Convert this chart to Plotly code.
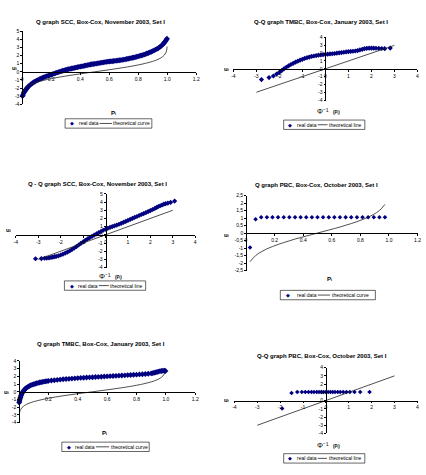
import plotly.graph_objects as go

W, H = 426, 475
NAVY = "#000080"
LINE = "#222222"
FONT = "Liberation Sans, Arial, sans-serif"

# ---------------- data ----------------
# Q graph SCC (Nov 2003): p_i vs u_i
scc_p = [0.002, 0.005, 0.01, 0.015, 0.02, 0.025, 0.03, 0.035, 0.04, 0.05, 0.06, 0.07, 0.08, 0.09,
         0.10, 0.11, 0.12, 0.13, 0.14, 0.15, 0.16, 0.17, 0.18, 0.19, 0.20, 0.21, 0.22, 0.23, 0.24,
         0.25, 0.26, 0.27, 0.28, 0.29, 0.30, 0.31, 0.32, 0.33, 0.34, 0.35, 0.36, 0.37, 0.38, 0.39,
         0.40, 0.41, 0.42, 0.43, 0.44, 0.45, 0.46, 0.47, 0.48, 0.49, 0.50, 0.51, 0.52, 0.53, 0.54,
         0.55, 0.56, 0.57, 0.58, 0.59, 0.60, 0.61, 0.62, 0.63, 0.64, 0.65, 0.66, 0.67, 0.68, 0.69,
         0.70, 0.71, 0.72, 0.73, 0.74, 0.75, 0.76, 0.77, 0.78, 0.79, 0.80, 0.81, 0.82, 0.83, 0.84,
         0.85, 0.86, 0.87, 0.88, 0.89, 0.90, 0.91, 0.92, 0.93, 0.94, 0.95, 0.96, 0.97, 0.975, 0.98,
         0.985, 0.99, 0.995, 0.998]
scc_u = [-2.98, -2.85, -2.6, -2.45, -2.32, -2.2, -2.08, -1.96, -1.85, -1.68, -1.54, -1.4, -1.28, -1.17,
         -1.08, -0.99, -0.9, -0.82, -0.74, -0.67, -0.6, -0.53, -0.47, -0.41, -0.36, -0.29, -0.22, -0.16, -0.1,
         -0.04, 0.02, 0.08, 0.13, 0.18, 0.23, 0.28, 0.32, 0.36, 0.4, 0.44, 0.48, 0.52, 0.56, 0.6,
         0.63, 0.67, 0.7, 0.74, 0.78, 0.82, 0.85, 0.89, 0.92, 0.95, 0.98, 1.01, 1.04, 1.07, 1.1,
         1.13, 1.16, 1.19, 1.21, 1.24, 1.26, 1.28, 1.3, 1.32, 1.34, 1.37, 1.39, 1.42, 1.44, 1.47,
         1.5, 1.53, 1.57, 1.6, 1.64, 1.68, 1.72, 1.76, 1.8, 1.85, 1.9, 1.95, 2.0, 2.05, 2.1,
         2.17, 2.24, 2.31, 2.38, 2.46, 2.54, 2.63, 2.72, 2.82, 2.92, 3.05, 3.2, 3.36, 3.47, 3.58,
         3.7, 3.82, 3.95, 4.05]
scc_theo_p = [0.001, 0.005, 0.01, 0.02, 0.03, 0.05, 0.075, 0.1, 0.15, 0.2, 0.3, 0.4, 0.5, 0.6,
              0.7, 0.8, 0.85, 0.9, 0.925, 0.95, 0.97, 0.98, 0.99, 0.995, 0.999]
scc_theo_u = [-3.09, -2.58, -2.33, -2.05, -1.88, -1.64, -1.44, -1.28, -1.04, -0.84, -0.52, -0.25, 0.0, 0.25,
              0.52, 0.84, 1.04, 1.28, 1.44, 1.64, 1.88, 2.05, 2.33, 2.58, 3.09]

# Q-Q graph SCC (Nov 2003): Phi^-1(p_i) vs u_i
scc_z = [-3.12, -2.86, -2.72, -2.62, -2.52, -2.43, -2.35, -2.27, -2.2, -2.1, -2.0, -1.9, -1.8, -1.7,
         -1.6, -1.5, -1.4, -1.3, -1.2, -1.1, -1.0, -0.9, -0.8, -0.7, -0.6, -0.5, -0.4, -0.3, -0.2,
         -0.1, 0.0, 0.1, 0.2, 0.3, 0.4, 0.5, 0.6, 0.7, 0.8, 0.9, 1.0, 1.1, 1.2, 1.3, 1.4, 1.5,
         1.6, 1.7, 1.8, 1.9, 2.0, 2.1, 2.2, 2.28, 2.36, 2.44, 2.52, 2.6, 2.68, 2.78, 2.9, 3.08]
scc_zu = [-2.92, -2.9, -2.86, -2.83, -2.8, -2.76, -2.72, -2.67, -2.63, -2.56, -2.46, -2.36, -2.24, -2.1,
          -1.96, -1.8, -1.62, -1.43, -1.24, -1.05, -0.86, -0.67, -0.5, -0.34, -0.18, -0.03, 0.12, 0.27, 0.42,
          0.56, 0.68, 0.8, 0.91, 1.01, 1.1, 1.19, 1.29, 1.4, 1.52, 1.64, 1.76, 1.88, 2.0, 2.12, 2.24, 2.36,
          2.48, 2.6, 2.72, 2.84, 2.96, 3.09, 3.22, 3.34, 3.46, 3.55, 3.64, 3.74, 3.8, 3.88, 3.96, 4.12]

# Q graph TMBC (Jan 2003)
tmbc_p = [0.001, 0.003, 0.005, 0.008, 0.01, 0.013, 0.016, 0.02, 0.025, 0.03, 0.035, 0.04, 0.045, 0.05,
          0.06, 0.07, 0.08, 0.09, 0.10, 0.11, 0.12, 0.13, 0.14, 0.15, 0.16, 0.17, 0.18, 0.19, 0.20,
          0.22, 0.24, 0.26, 0.28, 0.30, 0.32, 0.34, 0.36, 0.38, 0.40, 0.42, 0.44, 0.46, 0.48, 0.50,
          0.52, 0.54, 0.56, 0.58, 0.60, 0.62, 0.64, 0.66, 0.68, 0.70, 0.72, 0.74, 0.76, 0.78, 0.80,
          0.82, 0.84, 0.86, 0.88, 0.90, 0.91, 0.92, 0.93, 0.94, 0.95, 0.96, 0.97, 0.98, 0.99, 0.997]
tmbc_u = [-1.4, -1.2, -1.02, -0.82, -0.7, -0.53, -0.38, -0.2, -0.04, 0.1, 0.22, 0.33, 0.42, 0.5,
          0.63, 0.75, 0.85, 0.92, 0.98, 1.04, 1.1, 1.15, 1.2, 1.24, 1.28, 1.32, 1.35, 1.38, 1.41,
          1.46, 1.5, 1.54, 1.58, 1.62, 1.65, 1.68, 1.71, 1.74, 1.77, 1.8, 1.82, 1.85, 1.87, 1.89,
          1.91, 1.93, 1.95, 1.98, 2.0, 2.02, 2.05, 2.07, 2.09, 2.11, 2.13, 2.16, 2.18, 2.2, 2.22,
          2.25, 2.27, 2.3, 2.33, 2.38, 2.42, 2.47, 2.52, 2.57, 2.62, 2.67, 2.7, 2.72, 2.72, 2.7]
tmbc_theo_p = [0.001, 0.005, 0.01, 0.02, 0.03, 0.05, 0.075, 0.1, 0.15, 0.2, 0.3, 0.4, 0.5, 0.6,
               0.7, 0.8, 0.85, 0.9, 0.925, 0.95, 0.97, 0.98, 0.99, 0.993]
tmbc_theo_u = [-3.09, -2.58, -2.33, -2.05, -1.88, -1.64, -1.44, -1.28, -1.04, -0.84, -0.52, -0.25, 0.0, 0.25,
               0.52, 0.84, 1.04, 1.28, 1.44, 1.64, 1.88, 2.05, 2.33, 2.46]

# Q-Q graph TMBC (Jan 2003)
tmbc_z = [-2.78, -2.45, -2.26, -2.12, -2.0, -1.9, -1.8, -1.7, -1.6, -1.5, -1.4, -1.3, -1.2, -1.1,
          -1.0, -0.9, -0.8, -0.7, -0.6, -0.5, -0.4, -0.3, -0.2, -0.1, 0.0, 0.1, 0.2, 0.3, 0.4,
          0.5, 0.6, 0.7, 0.8, 0.9, 1.0, 1.1, 1.2, 1.3, 1.4, 1.5, 1.6, 1.7, 1.8, 1.9, 2.0, 2.1,
          2.2, 2.32, 2.45, 2.58, 2.82]
tmbc_zu = [-1.38, -1.12, -0.92, -0.68, -0.45, -0.22, 0.0, 0.2, 0.38, 0.55, 0.7, 0.85, 0.98, 1.1,
           1.22, 1.33, 1.42, 1.5, 1.58, 1.64, 1.7, 1.74, 1.78, 1.81, 1.84, 1.87, 1.9, 1.93, 1.96,
           2.0, 2.04, 2.08, 2.12, 2.16, 2.19, 2.22, 2.25, 2.28, 2.34, 2.42, 2.5, 2.58, 2.62, 2.64, 2.64, 2.64,
           2.63, 2.62, 2.6, 2.58, 2.66]

# PBC (Oct 2003): 25 points
pbc_p = [0.028, 0.067, 0.106, 0.146, 0.185, 0.224, 0.264, 0.303, 0.343, 0.382, 0.421, 0.461, 0.500,
         0.539, 0.579, 0.618, 0.657, 0.697, 0.736, 0.776, 0.815, 0.854, 0.894, 0.933, 0.972]
pbc_z = [-1.91, -1.50, -1.25, -1.05, -0.90, -0.76, -0.63, -0.52, -0.40, -0.30, -0.20, -0.10, 0.00,
         0.10, 0.20, 0.30, 0.40, 0.52, 0.63, 0.76, 0.90, 1.05, 1.25, 1.50, 1.91]
pbc_u = [-0.96, 0.92, 1.05, 1.05, 1.05, 1.05, 1.05, 1.05, 1.05, 1.05, 1.05, 1.05, 1.05,
         1.05, 1.05, 1.05, 1.05, 1.05, 1.05, 1.05, 1.05, 1.05, 1.05, 1.05, 1.05]

# theoretical line for Q-Q graphs
qq_line_x = [-3, 3]
qq_line_y = [-3, 3]

# tick labels
p_ticks = [0, 0.2, 0.4, 0.6, 0.8, 1.0, 1.2]
p_ticktext = ["0", "0.2", "0.4", "0.6", "0.8", "1.0", "1.2"]
z_ticks = [-4, -3, -2, -1, 0, 1, 2, 3, 4]
u_ticks_9 = [-4, -3, -2, -1, 0, 1, 2, 3, 4, 5]
u_ticks_8 = [-4, -3, -2, -1, 0, 1, 2, 3, 4]
pbc_u_ticks = [-2.5, -2, -1.5, -1, -0.5, 0, 0.5, 1, 1.5, 2, 2.5]
pbc_u_ticktext = ["-2,5", "-2", "-1,5", "-1", "-0,5", "0", "0,5", "1", "1,5", "2", "2,5"]

titles = [
    "Q graph SCC, Box-Cox, November 2003, Set I",
    "Q-Q graph TMBC, Box-Cox, January 2003, Set I",
    "Q - Q graph SCC, Box-Cox, November 2003, Set I",
    "Q graph PBC, Box-Cox, October 2003, Set I",
    "Q graph TMBC, Box-Cox, January 2003, Set I",
    "Q-Q graph PBC, Box-Cox, October 2003, Set I",
]

# ---------------- layout (pixels) ----------------
# leg = (box left, box centre y, box width, [diamond, text1, line start, line end, text2] offsets)
panels = [
    dict(dx=(20.5, 197), dy=(28.4, 102.7), xr=[0, 1.2], yr=[-4, 5], xt=(p_ticks, p_ticktext),
         yt=(u_ticks_9, [str(v) for v in u_ticks_9]), title=(100, 19), xlab=(113, 111), ulab=(13, 66),
         leg=(64, 122, 88, (7.5, 13, 35, 47.5, 48)), qq=False, curve="theoretical curve",
         data=(scc_p, scc_u, 4.5), theo=(scc_theo_p, scc_theo_u)),
    dict(dx=(234.7, 421.3), dy=(35, 98.3), xr=[-4, 4], yr=[-4, 4], xt=(z_ticks, [str(v) for v in z_ticks]),
         yt=(u_ticks_8, [str(v) for v in u_ticks_8]), title=(323.5, 19), xlab=(331, 110), ulab=(228, 66.7),
         leg=(285.7, 123.3, 82.3, (6.7, 12.5, 34.5, 44.5, 45)), qq=True, curve="theoretical line",
         data=(tmbc_z, tmbc_zu, 4), theo=(qq_line_x, qq_line_y)),
    dict(dx=(14, 196), dy=(193.3, 268), xr=[-4, 4], yr=[-4, 5], xt=(z_ticks, [str(v) for v in z_ticks]),
         yt=(u_ticks_9, [str(v) for v in u_ticks_9]), title=(97, 183.3), xlab=(110, 277.5), ulab=(7, 230),
         leg=(63.3, 286.2, 82.4, (7.5, 13, 35, 45, 45.5)), qq=True, curve="theoretical line",
         data=(scc_z, scc_zu, 4), theo=(qq_line_x, qq_line_y)),
    dict(dx=(247.5, 421.5), dy=(195, 271), xr=[0, 1.2], yr=[-2.5, 2.5], xt=(p_ticks, p_ticktext),
         yt=(pbc_u_ticks, pbc_u_ticktext), title=(319, 184.3), xlab=(332, 280), ulab=(228, 235),
         leg=(282.3, 295.8, 96.4, (8, 15.5, 38, 50.5, 51)), qq=False, curve="theoretical curve",
         data=(pbc_p, pbc_u, 3.5), theo=(pbc_p, pbc_z)),
    dict(dx=(17.3, 196), dy=(362.5, 425), xr=[0, 1.2], yr=[-4, 4], xt=(p_ticks, p_ticktext),
         yt=(u_ticks_8, [str(v) for v in u_ticks_8]), title=(100, 345), xlab=(104, 435), ulab=(5, 394),
         leg=(60.7, 449.5, 88.6, (7, 12.5, 34.5, 48, 48.5)), qq=False, curve="theoretical curve",
         data=(tmbc_p, tmbc_u, 4.5), theo=(tmbc_theo_p, tmbc_theo_u)),
    dict(dx=(235.7, 421.3), dy=(369.3, 436), xr=[-4, 4], yr=[-4, 4], xt=(z_ticks, [str(v) for v in z_ticks]),
         yt=(u_ticks_8, [str(v) for v in u_ticks_8]), title=(324.5, 357.3), xlab=(331, 448.5), ulab=(228, 402),
         leg=(285.7, 461.2, 82.3, (6.7, 12.5, 34.5, 44, 44.5)), qq=True, curve="theoretical line",
         data=(pbc_z, pbc_u, 3.5), theo=(qq_line_x, qq_line_y)),
]
LEG_H = 9.5


def fx(px):
    return px / W


def fy(py):
    return 1 - py / H


def note(px, py, text, size, xanchor="center", bold=False, color="black", **kw):
    return dict(x=fx(px), y=fy(py), xref="paper", yref="paper", text=text, showarrow=False,
                xanchor=xanchor, yanchor="middle", borderpad=0,
                font=dict(family=FONT, size=size, color=color, weight="bold" if bold else "normal"), **kw)


fig = go.Figure()
layout = dict(
    width=W, height=H, autosize=False,
    margin=dict(l=0, r=0, t=0, b=0, pad=0),
    paper_bgcolor="white", plot_bgcolor="rgba(0,0,0,0)",
    showlegend=False,
    font=dict(family=FONT, size=5, color="black"),
)
annotations = []
shapes = []

for i, pn in enumerate(panels):
    k = "" if i == 0 else str(i + 1)
    xa, ya = "x" + k, "y" + k
    xdom = [fx(pn["dx"][0]), fx(pn["dx"][1])]
    ydom = [fy(pn["dy"][1]), fy(pn["dy"][0])]
    # where the value 0 falls on each axis (axes cross at zero, Excel style)
    y0frac = ydom[0] + (0 - pn["yr"][0]) / (pn["yr"][1] - pn["yr"][0]) * (ydom[1] - ydom[0])
    x0frac = xdom[0] + (0 - pn["xr"][0]) / (pn["xr"][1] - pn["xr"][0]) * (xdom[1] - xdom[0])
    common = dict(showgrid=False, zeroline=False, showline=True, linecolor="black", linewidth=0.7,
                  ticks="outside", ticklen=2, tickwidth=0.6, tickcolor="black",
                  tickfont=dict(family=FONT, size=5, color="black"), tickmode="array",
                  anchor="free", fixedrange=True)
    layout["xaxis" + k] = dict(common, domain=xdom, range=pn["xr"], position=y0frac,
                               tickvals=pn["xt"][0], ticktext=pn["xt"][1])
    layout["yaxis" + k] = dict(common, domain=ydom, range=pn["yr"], position=x0frac,
                               tickvals=pn["yt"][0], ticktext=pn["yt"][1])

    dx_, dy_, ms = pn["data"]
    fig.add_trace(go.Scatter(x=dx_, y=dy_, xaxis=xa, yaxis=ya, mode="markers", name="real data",
                             marker=dict(symbol="diamond", size=ms, color=NAVY, line=dict(width=0)),
                             cliponaxis=False))
    tx, ty = pn["theo"]
    fig.add_trace(go.Scatter(x=tx, y=ty, xaxis=xa, yaxis=ya, mode="lines", name=pn["curve"],
                             line=dict(color=LINE, width=0.8, shape="spline" if not pn["qq"] else "linear"),
                             cliponaxis=False))

    # title
    annotations.append(note(pn["title"][0], pn["title"][1], titles[i], 6, bold=True))
    # x-axis title
    xlx, xly = pn["xlab"]
    if pn["qq"]:
        annotations.append(note(xlx + 2, xly, "Φ⁻¹", 7.5, xanchor="right"))
        annotations.append(note(xlx + 3.5, xly + 1, "(Pᵢ)", 4.5, xanchor="left", bold=True))
    else:
        annotations.append(note(xlx, xly, "Pᵢ", 6, bold=True))
    # u axis title
    annotations.append(note(pn["ulab"][0], pn["ulab"][1], "uᵢ", 6, bold=True))

    # legend box: frame, marker sample, labels, line sample
    left, ly, lw, off = pn["leg"]
    shapes.append(dict(type="rect", xref="paper", yref="paper",
                       x0=fx(left), x1=fx(left + lw), y0=fy(ly + LEG_H / 2), y1=fy(ly - LEG_H / 2),
                       line=dict(color="black", width=0.6), fillcolor="white", layer="below"))
    annotations.append(note(left + off[0], ly, "◆", 5, color=NAVY))
    annotations.append(note(left + off[1], ly, "real data", 5, xanchor="left"))
    shapes.append(dict(type="line", xref="paper", yref="paper",
                       x0=fx(left + off[2]), x1=fx(left + off[3]), y0=fy(ly), y1=fy(ly),
                       line=dict(color=LINE, width=0.8)))
    annotations.append(note(left + off[4], ly, pn["curve"], 5, xanchor="left"))

layout["annotations"] = annotations
layout["shapes"] = shapes
fig.update_layout(**layout)
fig.write_html("out.html")
